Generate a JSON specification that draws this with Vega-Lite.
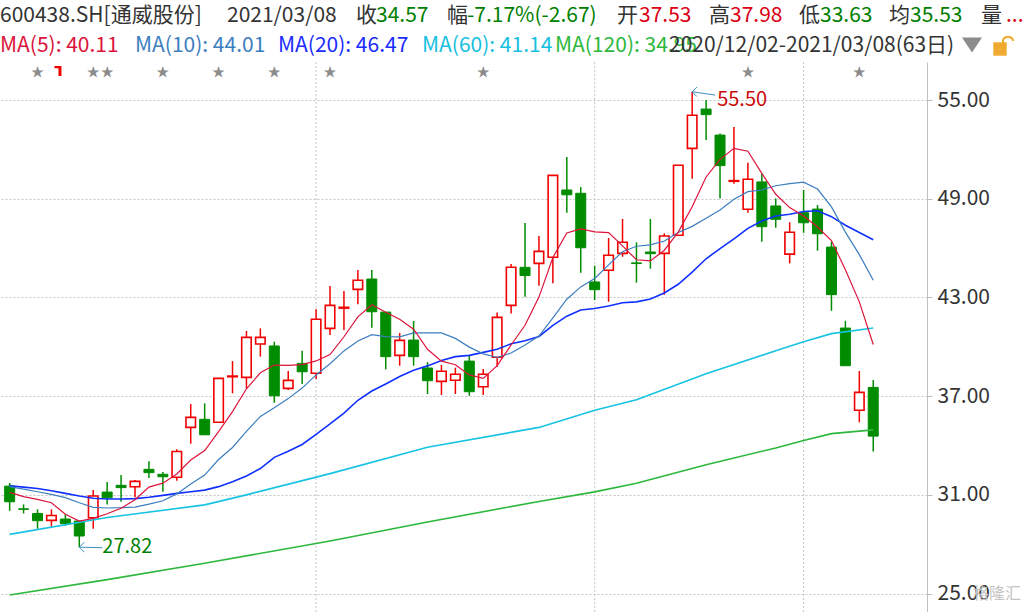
{
"$schema": "https://vega.github.io/schema/vega-lite/v6.json",
"width": 927, "height": 550,
"autosize": {"type": "none"},
"padding": {"left": 0, "top": 62, "right": 101, "bottom": 0},
"background": "white",
"config": {"view": {"stroke": null}, "text": {"font": "Noto Sans CJK SC", "fontSize": 21, "align": "left", "baseline": "middle"},
 "axis": {"grid": true, "gridColor": "#c4c4c4", "gridDash": [2,2], "gridWidth": 1, "domainColor": "#c0c0c0", "domainWidth": 1, "tickColor": "#c0c0c0", "tickSize": 5, "labelPadding": 5, "labelFont": "Noto Sans CJK SC", "labelFontSize": 21, "labelColor": "#333333"}},
"datasets": {
"k": [
{"i":0,"o":31.53,"h":31.72,"l":30.03,"c":30.58,"ma5":31.15,"ma10":31.50,"ma20":31.55},
{"i":1,"o":30.15,"h":30.42,"l":29.87,"c":30.12,"ma5":30.89,"ma10":31.35,"ma20":31.47},
{"i":2,"o":29.87,"h":30.12,"l":28.94,"c":29.43,"ma5":30.73,"ma10":31.19,"ma20":31.39},
{"i":3,"o":29.45,"h":30.12,"l":29.06,"c":29.75,"ma5":30.52,"ma10":31.03,"ma20":31.25},
{"i":4,"o":29.53,"h":29.83,"l":29.13,"c":29.24,"ma5":29.82,"ma10":30.83,"ma20":31.09},
{"i":5,"o":29.41,"h":29.41,"l":27.82,"c":28.50,"ma5":29.41,"ma10":30.52,"ma20":30.93},
{"i":6,"o":29.61,"h":31.29,"l":28.94,"c":30.93,"ma5":29.57,"ma10":30.24,"ma20":30.79},
{"i":7,"o":31.17,"h":31.78,"l":30.42,"c":30.82,"ma5":29.85,"ma10":30.20,"ma20":30.75},
{"i":8,"o":31.58,"h":32.20,"l":30.58,"c":31.44,"ma5":30.19,"ma10":30.22,"ma20":30.75},
{"i":9,"o":31.49,"h":31.90,"l":30.85,"c":31.82,"ma5":30.70,"ma10":30.26,"ma20":30.77},
{"i":10,"o":32.55,"h":33.04,"l":32.02,"c":32.35,"ma5":31.47,"ma10":30.44,"ma20":30.85},
{"i":11,"o":32.25,"h":32.39,"l":31.19,"c":32.10,"ma5":31.71,"ma10":30.64,"ma20":30.97},
{"i":12,"o":32.07,"h":33.77,"l":31.86,"c":33.64,"ma5":32.27,"ma10":31.06,"ma20":31.09},
{"i":13,"o":35.10,"h":36.52,"l":34.11,"c":35.71,"ma5":33.12,"ma10":31.66,"ma20":31.19},
{"i":14,"o":35.59,"h":36.56,"l":34.65,"c":34.65,"ma5":33.69,"ma10":32.20,"ma20":31.29},
{"i":15,"o":35.41,"h":38.08,"l":35.41,"c":38.08,"ma5":34.84,"ma10":33.15,"ma20":31.50},
{"i":16,"o":38.18,"h":39.13,"l":37.17,"c":38.22,"ma5":36.06,"ma10":33.88,"ma20":31.80},
{"i":17,"o":38.14,"h":40.96,"l":37.47,"c":40.57,"ma5":37.45,"ma10":34.86,"ma20":32.15},
{"i":18,"o":40.17,"h":41.12,"l":39.40,"c":40.57,"ma5":38.42,"ma10":35.77,"ma20":32.60},
{"i":19,"o":40.05,"h":40.31,"l":36.60,"c":37.02,"ma5":38.89,"ma10":36.29,"ma20":33.28},
{"i":20,"o":37.47,"h":38.53,"l":37.37,"c":37.96,"ma5":38.87,"ma10":36.85,"ma20":33.65},
{"i":21,"o":38.99,"h":39.76,"l":37.74,"c":38.48,"ma5":38.92,"ma10":37.49,"ma20":34.06},
{"i":22,"o":38.39,"h":42.28,"l":38.04,"c":41.67,"ma5":39.14,"ma10":38.29,"ma20":34.68},
{"i":23,"o":41.12,"h":43.69,"l":40.71,"c":42.52,"ma5":39.53,"ma10":38.97,"ma20":35.31},
{"i":24,"o":42.35,"h":43.39,"l":41.02,"c":42.40,"ma5":40.61,"ma10":39.75,"ma20":35.97},
{"i":25,"o":43.49,"h":44.67,"l":42.58,"c":44.04,"ma5":41.82,"ma10":40.35,"ma20":36.75},
{"i":26,"o":44.12,"h":44.67,"l":41.16,"c":42.13,"ma5":42.55,"ma10":40.74,"ma20":37.31},
{"i":27,"o":42.11,"h":42.11,"l":38.63,"c":39.40,"ma5":42.10,"ma10":40.62,"ma20":37.74},
{"i":28,"o":39.48,"h":40.84,"l":38.85,"c":40.39,"ma5":41.67,"ma10":40.60,"ma20":38.19},
{"i":29,"o":40.41,"h":41.57,"l":38.85,"c":39.40,"ma5":41.07,"ma10":40.84,"ma20":38.57},
{"i":30,"o":38.71,"h":39.07,"l":37.13,"c":37.94,"ma5":39.85,"ma10":40.84,"ma20":38.84},
{"i":31,"o":37.90,"h":38.89,"l":37.07,"c":38.51,"ma5":39.13,"ma10":40.84,"ma20":39.17},
{"i":32,"o":37.97,"h":38.73,"l":37.13,"c":38.33,"ma5":38.91,"ma10":40.51,"ma20":39.40},
{"i":33,"o":39.13,"h":39.50,"l":37.02,"c":37.27,"ma5":38.29,"ma10":39.98,"ma20":39.48},
{"i":34,"o":37.57,"h":38.65,"l":37.07,"c":38.33,"ma5":38.08,"ma10":39.57,"ma20":39.66},
{"i":35,"o":39.36,"h":42.09,"l":38.79,"c":41.79,"ma5":38.85,"ma10":39.35,"ma20":39.85},
{"i":36,"o":42.52,"h":45.03,"l":42.03,"c":44.83,"ma5":40.11,"ma10":39.62,"ma20":40.18},
{"i":37,"o":44.83,"h":47.52,"l":43.04,"c":44.33,"ma5":41.31,"ma10":40.11,"ma20":40.37},
{"i":38,"o":45.07,"h":46.73,"l":43.71,"c":45.80,"ma5":43.02,"ma10":40.65,"ma20":40.63},
{"i":39,"o":45.44,"h":50.42,"l":43.86,"c":50.42,"ma5":45.43,"ma10":41.76,"ma20":41.30},
{"i":40,"o":49.53,"h":51.53,"l":48.15,"c":49.24,"ma5":46.92,"ma10":42.89,"ma20":41.86},
{"i":41,"o":49.33,"h":49.71,"l":44.50,"c":46.02,"ma5":47.16,"ma10":43.64,"ma20":42.24},
{"i":42,"o":43.94,"h":44.93,"l":42.84,"c":43.47,"ma5":46.99,"ma10":44.15,"ma20":42.33},
{"i":43,"o":44.65,"h":46.61,"l":42.74,"c":45.56,"ma5":46.94,"ma10":44.98,"ma20":42.48},
{"i":44,"o":45.68,"h":47.77,"l":45.47,"c":46.35,"ma5":46.13,"ma10":45.78,"ma20":42.68},
{"i":45,"o":45.10,"h":46.35,"l":43.90,"c":45.06,"ma5":45.29,"ma10":46.11,"ma20":42.73},
{"i":46,"o":45.76,"h":47.77,"l":44.75,"c":45.66,"ma5":45.22,"ma10":46.19,"ma20":42.91},
{"i":47,"o":45.68,"h":46.90,"l":43.16,"c":46.73,"ma5":45.87,"ma10":46.43,"ma20":43.27},
{"i":48,"o":46.78,"h":51.03,"l":46.78,"c":51.03,"ma5":46.97,"ma10":46.95,"ma20":43.80},
{"i":49,"o":52.06,"h":55.50,"l":50.22,"c":54.07,"ma5":48.51,"ma10":47.32,"ma20":44.54},
{"i":50,"o":54.45,"h":55.00,"l":52.57,"c":54.11,"ma5":50.32,"ma10":47.81,"ma20":45.35},
{"i":51,"o":52.87,"h":52.97,"l":49.02,"c":51.01,"ma5":51.39,"ma10":48.31,"ma20":45.97},
{"i":52,"o":50.06,"h":53.36,"l":49.91,"c":50.10,"ma5":52.06,"ma10":48.97,"ma20":46.56},
{"i":53,"o":48.36,"h":51.19,"l":48.15,"c":50.18,"ma5":51.89,"ma10":49.43,"ma20":47.20},
{"i":54,"o":50.02,"h":50.54,"l":46.39,"c":47.30,"ma5":50.54,"ma10":49.53,"ma20":47.65},
{"i":55,"o":48.56,"h":49.02,"l":47.24,"c":47.75,"ma5":49.27,"ma10":49.79,"ma20":47.95},
{"i":56,"o":45.63,"h":47.57,"l":45.07,"c":46.96,"ma5":48.46,"ma10":49.92,"ma20":48.06},
{"i":57,"o":48.15,"h":49.53,"l":46.93,"c":47.54,"ma5":47.95,"ma10":50.01,"ma20":48.22},
{"i":58,"o":48.37,"h":48.62,"l":45.84,"c":46.87,"ma5":47.28,"ma10":49.59,"ma20":48.27},
{"i":59,"o":46.06,"h":46.39,"l":42.19,"c":43.17,"ma5":46.46,"ma10":48.50,"ma20":47.91},
{"i":60,"o":41.14,"h":41.58,"l":38.85,"c":38.85,"ma5":44.68,"ma10":46.97,"ma20":47.39},
{"i":61,"o":36.14,"h":38.53,"l":35.41,"c":37.23,"ma5":42.73,"ma10":45.60,"ma20":46.95},
{"i":62,"o":37.53,"h":37.98,"l":33.63,"c":34.57,"ma5":40.14,"ma10":44.04,"ma20":46.51}
],
"ma60": [
{"i":0,"v":28.60},{"i":7,"v":29.62},{"i":14,"v":30.39},{"i":17,"v":31.00},{"i":23,"v":32.29},{"i":30,"v":33.89},{"i":38,"v":35.10},{"i":42,"v":36.14},{"i":45,"v":36.78},{"i":50,"v":38.36},{"i":55,"v":39.76},{"i":57,"v":40.30},{"i":59,"v":40.80},{"i":62,"v":41.14}
],
"ma120": [
{"i":0,"v":24.91},{"i":7,"v":25.85},{"i":14,"v":26.84},{"i":23,"v":28.20},{"i":30,"v":29.35},{"i":38,"v":30.60},{"i":42,"v":31.18},{"i":45,"v":31.70},{"i":50,"v":32.83},{"i":55,"v":33.85},{"i":57,"v":34.30},{"i":59,"v":34.72},{"i":62,"v":34.95}
],
"stars": [{"i":2},{"i":6},{"i":7},{"i":11},{"i":15},{"i":19},{"i":23},{"i":34},{"i":53},{"i":61}],
"flag": [{"i":3}],
"months": [{"i":22},{"i":42},{"i":57}],
"hi": [{"i":49,"p":55.50,"t":"55.50"}],
"lo": [{"i":5,"p":27.82,"t":"27.82"}]
},
"layer": [
{"data":{"name":"months"},"mark":{"type":"rule","color":"#c4c4c4","strokeDash":[2,2],"strokeWidth":1},
 "encoding":{"x":{"field":"i","type":"quantitative","scale":{"domain":[-0.334,65.5],"nice":false,"zero":false},"axis":null}}},
{"data":{"name":"k"},"transform":[{"filter":"datum.c >= datum.o"}],"mark":{"type":"rule","color":"#f00000","strokeWidth":1.5},
 "encoding":{"x":{"field":"i","type":"quantitative","scale":{"domain":[-0.334,65.5],"nice":false,"zero":false},"axis":null},
  "y":{"field":"l","type":"quantitative","scale":{"domain":[23.88,57.31],"nice":false,"zero":false},"axis":{"orient":"right","values":[25,31,37,43,49,55],"format":".2f","title":null}},
  "y2":{"field":"h"}}},
{"data":{"name":"k"},"transform":[{"filter":"datum.c < datum.o"}],"mark":{"type":"rule","color":"#008c00","strokeWidth":1.5},
 "encoding":{"x":{"field":"i","type":"quantitative"},"y":{"field":"l","type":"quantitative","axis":{"orient":"right","values":[25,31,37,43,49,55],"format":".2f","title":null}},"y2":{"field":"h"}}},
{"data":{"name":"k"},"transform":[{"filter":"datum.c >= datum.o"}],"mark":{"type":"bar","width":9.5,"fill":"white","stroke":"#f00000","strokeWidth":1.6},
 "encoding":{"x":{"field":"i","type":"quantitative"},"y":{"field":"o","type":"quantitative","axis":{"orient":"right","values":[25,31,37,43,49,55],"format":".2f","title":null}},"y2":{"field":"c"}}},
{"data":{"name":"k"},"transform":[{"filter":"datum.c < datum.o"}],"mark":{"type":"bar","width":10,"fill":"#008c00","stroke":"#008c00","strokeWidth":1},
 "encoding":{"x":{"field":"i","type":"quantitative"},"y":{"field":"o","type":"quantitative","axis":{"orient":"right","values":[25,31,37,43,49,55],"format":".2f","title":null}},"y2":{"field":"c"}}},
{"data":{"name":"ma120"},"mark":{"type":"line","color":"#2db83d","strokeWidth":1.6},
 "encoding":{"x":{"field":"i","type":"quantitative"},"y":{"field":"v","type":"quantitative","axis":{"orient":"right","values":[25,31,37,43,49,55],"format":".2f","title":null}}}},
{"data":{"name":"ma60"},"mark":{"type":"line","color":"#17c3e3","strokeWidth":1.6},
 "encoding":{"x":{"field":"i","type":"quantitative"},"y":{"field":"v","type":"quantitative","axis":{"orient":"right","values":[25,31,37,43,49,55],"format":".2f","title":null}}}},
{"data":{"name":"k"},"mark":{"type":"line","color":"#1030ff","strokeWidth":1.6},
 "encoding":{"x":{"field":"i","type":"quantitative"},"y":{"field":"ma20","type":"quantitative","axis":{"orient":"right","values":[25,31,37,43,49,55],"format":".2f","title":null}}}},
{"data":{"name":"k"},"mark":{"type":"line","color":"#3d7ebf","strokeWidth":1.2},
 "encoding":{"x":{"field":"i","type":"quantitative"},"y":{"field":"ma10","type":"quantitative","axis":{"orient":"right","values":[25,31,37,43,49,55],"format":".2f","title":null}}}},
{"data":{"name":"k"},"mark":{"type":"line","color":"#dc143c","strokeWidth":1.2},
 "encoding":{"x":{"field":"i","type":"quantitative"},"y":{"field":"ma5","type":"quantitative","axis":{"orient":"right","values":[25,31,37,43,49,55],"format":".2f","title":null}}}},
{"data":{"name":"hi"},"mark":{"type":"rule","color":"#3d8fbf","strokeWidth":1,"x2Offset":23,"y2Offset":3.3},
 "encoding":{"x":{"field":"i","type":"quantitative"},"x2":{"field":"i"},"y":{"field":"p","type":"quantitative","axis":{"orient":"right","values":[25,31,37,43,49,55],"format":".2f","title":null}},"y2":{"field":"p"}}},
{"data":{"name":"hi"},"mark":{"type":"point","shape":"M1,-1L0,0L1,1","size":90,"filled":false,"color":"#3d8fbf","strokeWidth":1,"opacity":1},
 "encoding":{"x":{"field":"i","type":"quantitative"},"y":{"field":"p","type":"quantitative","axis":{"orient":"right","values":[25,31,37,43,49,55],"format":".2f","title":null}}}},
{"data":{"name":"hi"},"mark":{"type":"text","color":"#cc0a0a","fontSize":20,"dx":25,"dy":8},
 "encoding":{"x":{"field":"i","type":"quantitative"},"y":{"field":"p","type":"quantitative","axis":{"orient":"right","values":[25,31,37,43,49,55],"format":".2f","title":null}},"text":{"field":"t"}}},
{"data":{"name":"lo"},"mark":{"type":"rule","color":"#3d8fbf","strokeWidth":1,"x2Offset":23,"y2Offset":0.5},
 "encoding":{"x":{"field":"i","type":"quantitative"},"x2":{"field":"i"},"y":{"field":"p","type":"quantitative","axis":{"orient":"right","values":[25,31,37,43,49,55],"format":".2f","title":null}},"y2":{"field":"p"}}},
{"data":{"name":"lo"},"mark":{"type":"point","shape":"M1,-1L0,0L1,1","size":100,"filled":false,"color":"#3d8fbf","strokeWidth":1,"opacity":1},
 "encoding":{"x":{"field":"i","type":"quantitative"},"y":{"field":"p","type":"quantitative","axis":{"orient":"right","values":[25,31,37,43,49,55],"format":".2f","title":null}}}},
{"data":{"name":"lo"},"mark":{"type":"text","color":"#008000","fontSize":20,"dx":23,"dy":0},
 "encoding":{"x":{"field":"i","type":"quantitative"},"y":{"field":"p","type":"quantitative","axis":{"orient":"right","values":[25,31,37,43,49,55],"format":".2f","title":null}},"text":{"field":"t"}}},
{"data":{"name":"stars"},"mark":{"type":"text","text":"★","color":"#8c8c8c","fontSize":13,"align":"center","y":10},
 "encoding":{"x":{"field":"i","type":"quantitative"}}},
{"data":{"name":"flag"},"mark":{"type":"point","shape":"M-0.4,-1L1,-1L1,1L0.4,1L0.4,-0.55L-0.4,-0.55Z","size":100,"filled":true,"color":"#f00000","opacity":1,"xOffset":5,"y":9},
 "encoding":{"x":{"field":"i","type":"quantitative"}}},
{"data":{"values":[{}]},"mark":{"type":"rule","x":0,"x2":1028,"y":-32.5,"y2":-32.5,"color":"#d4d8dc","strokeWidth":1},"encoding":{}},
{"data":{"values":[{}]},"mark":{"type":"rule","x":0,"x2":1028,"y":-0.5,"y2":-0.5,"color":"#8a96a2","strokeWidth":1},"encoding":{}},
{"data":{"values":[{}]},"mark":{"type":"text","text":"600438.SH[通威股份]","x":0,"y":-46,"color":"#333333"},"encoding":{}},
{"data":{"values":[{}]},"mark":{"type":"text","text":"2021/03/08","x":227,"y":-46,"color":"#333333"},"encoding":{}},
{"data":{"values":[{}]},"mark":{"type":"text","text":"收","x":356,"y":-46,"color":"#333333"},"encoding":{}},
{"data":{"values":[{}]},"mark":{"type":"text","text":"34.57","x":376,"y":-46,"color":"#008000"},"encoding":{}},
{"data":{"values":[{}]},"mark":{"type":"text","text":"幅","x":447,"y":-46,"color":"#333333"},"encoding":{}},
{"data":{"values":[{}]},"mark":{"type":"text","text":"-7.17%(-2.67)","x":467,"y":-46,"color":"#008000"},"encoding":{}},
{"data":{"values":[{}]},"mark":{"type":"text","text":"开","x":617,"y":-46,"color":"#333333"},"encoding":{}},
{"data":{"values":[{}]},"mark":{"type":"text","text":"37.53","x":639,"y":-46,"color":"#dc0014"},"encoding":{}},
{"data":{"values":[{}]},"mark":{"type":"text","text":"高","x":709,"y":-46,"color":"#333333"},"encoding":{}},
{"data":{"values":[{}]},"mark":{"type":"text","text":"37.98","x":730,"y":-46,"color":"#dc0014"},"encoding":{}},
{"data":{"values":[{}]},"mark":{"type":"text","text":"低","x":799,"y":-46,"color":"#333333"},"encoding":{}},
{"data":{"values":[{}]},"mark":{"type":"text","text":"33.63","x":820,"y":-46,"color":"#008000"},"encoding":{}},
{"data":{"values":[{}]},"mark":{"type":"text","text":"均","x":889,"y":-46,"color":"#333333"},"encoding":{}},
{"data":{"values":[{}]},"mark":{"type":"text","text":"35.53","x":910,"y":-46,"color":"#008000"},"encoding":{}},
{"data":{"values":[{}]},"mark":{"type":"text","text":"量","x":981,"y":-46,"color":"#333333"},"encoding":{}},
{"data":{"values":[{}]},"mark":{"type":"text","text":"...","x":1006,"y":-46,"color":"#dc0014"},"encoding":{}},
{"data":{"values":[{}]},"mark":{"type":"text","text":"MA(5): 40.11","x":0,"y":-16,"color":"#dc143c"},"encoding":{}},
{"data":{"values":[{}]},"mark":{"type":"text","text":"MA(10): 44.01","x":135,"y":-16,"color":"#3d7ebf"},"encoding":{}},
{"data":{"values":[{}]},"mark":{"type":"text","text":"MA(20): 46.47","x":278,"y":-16,"color":"#1a2bff"},"encoding":{}},
{"data":{"values":[{}]},"mark":{"type":"text","text":"MA(60): 41.14","x":422,"y":-16,"color":"#17bfe0"},"encoding":{}},
{"data":{"values":[{}]},"mark":{"type":"text","text":"MA(120): 34.95","x":555,"y":-16,"color":"#2db83d"},"encoding":{}},
{"data":{"values":[{}]},"mark":{"type":"text","text":"2020/12/02-2021/03/08(63日)","x":669,"y":-16,"color":"#333333"},"encoding":{}},
{"data":{"values":[{}]},"mark":{"type":"rule","x":669,"x2":960,"y":-5,"y2":-5,"color":"#333333","strokeWidth":1},"encoding":{}},
{"data":{"values":[{}]},"mark":{"type":"point","shape":"M-1,-0.75L1,-0.75L0,0.75Z","size":400,"filled":true,"color":"#8c8c8c","opacity":1,"x":972,"y":-17},"encoding":{}},
{"data":{"values":[{}]},"mark":{"type":"point","shape":"square","size":180,"filled":true,"color":"#f0aa30","opacity":1,"x":1000,"y":-13},"encoding":{}},
{"data":{"values":[{}]},"mark":{"type":"point","shape":"M-1,1L-1,-0.2Q-1,-1 0,-1Q1,-1 1,-0.2","size":100,"filled":false,"strokeWidth":2,"color":"#f0aa30","opacity":1,"x":1008,"y":-20},"encoding":{}},
{"data":{"values":[{}]},"mark":{"type":"text","text":"格隆汇","x":973,"y":532,"fontSize":16,"color":"#c4c4c4"},"encoding":{}}
]
}
